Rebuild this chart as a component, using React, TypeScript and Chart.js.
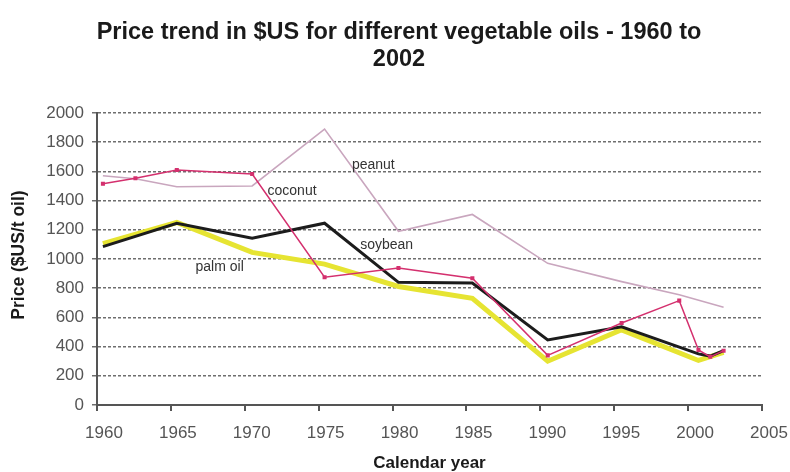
import React, { useEffect, useRef } from "react";
import { Chart, registerables } from "chart.js";

Chart.register(...registerables);

const titleLines = ["Price trend in $US for different vegetable oils - 1960 to", "2002"];
const xAxisTitle = "Calendar year";
const yAxisTitle = "Price ($US/t oil)";

const peanutYears = [1960.4, 1962.6, 1965.4, 1970.5, 1975.4, 1980.4, 1985.4, 1990.5, 1995.5, 1999.4, 2002.4];
const peanutValues = [1570, 1550, 1495, 1500, 1890, 1190, 1305, 970, 845, 755, 670];

const coconutYears = [1960.4, 1962.6, 1965.4, 1970.5, 1975.4, 1980.4, 1985.4, 1990.5, 1995.5, 1999.4, 2000.7, 2001.5, 2002.4];
const coconutValues = [1515, 1553, 1610, 1582, 875, 938, 868, 340, 562, 715, 377, 330, 372];

const soybeanYears = [1960.4, 1965.4, 1970.5, 1975.4, 1980.4, 1985.4, 1990.5, 1995.5, 2000.7, 2001.5, 2002.4];
const soybeanValues = [1085, 1245, 1142, 1245, 840, 835, 445, 535, 350, 335, 372];

const palmYears = [1960.4, 1965.4, 1970.5, 1975.4, 1980.4, 1985.4, 1990.5, 1995.5, 2000.7, 2002.4];
const palmValues = [1105, 1250, 1045, 965, 812, 731, 300, 515, 305, 360];

const seriesLabels = [
  { text: "peanut", year: 1978.7, value: 1644 },
  { text: "coconut", year: 1973.2, value: 1466 },
  { text: "soybean", year: 1979.6, value: 1096 },
  { text: "palm oil", year: 1968.3, value: 945 },
];

const xMin = 1960;
const xMax = 2005;
const xStep = 5;
const yMin = 0;
const yMax = 2000;
const yStep = 200;

const pts = (xs: number[], ys: number[]) => xs.map((x, i) => ({ x, y: ys[i] }));

export default function App() {
  const ref = useRef<HTMLCanvasElement | null>(null);
  useEffect(() => {
    document.body.style.margin = "0";
    const canvas = ref.current!;
    const textPlugin = {
      id: "textPlugin",
      afterDraw(chart: any) {
        const ctx = chart.ctx;
        const area = chart.chartArea;
        const xs = chart.scales.x;
        const ys = chart.scales.y;
        ctx.save();
        ctx.fillStyle = "#1a1a1a";
        ctx.textAlign = "center";
        ctx.textBaseline = "middle";
        ctx.font = "bold 23.5px 'Liberation Sans', Arial, sans-serif";
        ctx.fillText(titleLines[0], 399, 33);
        ctx.fillText(titleLines[1], 399, 60);
        ctx.font = "bold 17px 'Liberation Sans', Arial, sans-serif";
        ctx.fillText(xAxisTitle, (area.left + area.right) / 2, 463);
        ctx.save();
        ctx.translate(19, 255);
        ctx.rotate(-Math.PI / 2);
        ctx.font = "bold 17.5px 'Liberation Sans', Arial, sans-serif";
        ctx.fillText(yAxisTitle, 0, 0);
        ctx.restore();
        ctx.font = "14px 'Liberation Sans', Arial, sans-serif";
        ctx.fillStyle = "#333";
        seriesLabels.forEach((l) => {
          ctx.fillText(l.text, xs.getPixelForValue(l.year), ys.getPixelForValue(l.value));
        });
        ctx.restore();
      },
    };
    const chart = new Chart(canvas, {
      type: "line",
      data: {
        datasets: [
          {
            label: "coconut",
            data: pts(coconutYears, coconutValues),
            borderColor: "#d4306e",
            backgroundColor: "#d4306e",
            borderWidth: 1.5,
            pointRadius: 1.8,
            pointStyle: "rect",
            tension: 0,
          },
          {
            label: "peanut",
            data: pts(peanutYears, peanutValues),
            borderColor: "#c9a6be",
            borderWidth: 1.6,
            pointRadius: 0,
            tension: 0,
          },
          {
            label: "soybean",
            data: pts(soybeanYears, soybeanValues),
            borderColor: "#1c1c1c",
            borderWidth: 3,
            pointRadius: 0,
            tension: 0,
          },
          {
            label: "palm oil",
            data: pts(palmYears, palmValues),
            borderColor: "#e6e432",
            borderWidth: 5,
            pointRadius: 0,
            tension: 0,
          },
        ],
      },
      options: {
        animation: false,
        responsive: false,
        layout: { padding: { top: 113, right: 28, left: 0, bottom: 0 } },
        plugins: { legend: { display: false }, title: { display: false }, tooltip: { enabled: false } },
        scales: {
          x: {
            type: "linear",
            min: xMin,
            max: xMax,
            ticks: {
              stepSize: xStep,
              color: "#555",
              font: { family: "'Liberation Sans', Arial, sans-serif", size: 17 },
              padding: 12,
              labelOffset: 7,
              maxRotation: 0,
              callback: (v: any) => String(v),
            },
            grid: { drawOnChartArea: false, drawTicks: true, tickLength: 6, color: "#555", lineWidth: 2 },
            border: { display: true, color: "#555", width: 2 },
            afterFit: (s: any) => {
              s.height = 67;
              s.paddingRight = 0;
              s.paddingLeft = 0;
            },
          },
          y: {
            min: yMin,
            max: yMax,
            ticks: {
              stepSize: yStep,
              color: "#555",
              font: { family: "'Liberation Sans', Arial, sans-serif", size: 17 },
              padding: 8,
              callback: (v: any) => String(v),
            },
            grid: { color: "#6e6e6e", lineWidth: 1.5, tickLength: 5 },
            border: { display: true, color: "#555", width: 2, dash: [3, 2] },
            afterFit: (s: any) => {
              s.width = 97;
            },
          },
        },
      },
      plugins: [textPlugin],
    });
    return () => chart.destroy();
  }, []);
  return (
    <div style={{ width: 790, height: 472 }}>
      <canvas ref={ref} width={790} height={472} />
    </div>
  );
}
